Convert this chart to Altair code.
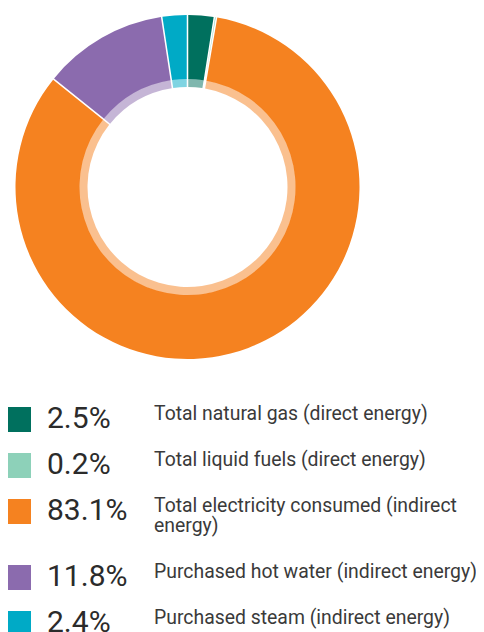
import altair as alt
import pandas as pd

categories = [
    "Total natural gas (direct energy)",
    "Total liquid fuels (direct energy)",
    "Total electricity consumed (indirect\nenergy)",
    "Purchased hot water (indirect energy)",
    "Purchased steam (indirect energy)",
]
shares = [2.5, 0.2, 83.1, 11.8, 2.4]
pct_labels = ["2.5%", "0.2%", "83.1%", "11.8%", "2.4%"]
colors = ["#00705e", "#8dd1b9", "#f58220", "#8b6bae", "#00aac6"]

df = pd.DataFrame({
    "idx": list(range(len(categories))),
    "cat": categories,
    "share": shares,
    "pct": pct_labels,
})

color = alt.Color("cat:N", scale=alt.Scale(domain=categories, range=colors), legend=None)
order = alt.Order("idx:Q")
theta = alt.Theta("share:Q", stack=True)

cx, cy = 179.5, 179

base = alt.Chart(df)

outer = base.mark_arc(radius=172, radius2=108, padAngle=0.0075).encode(
    theta=theta, color=color, order=order,
    x=alt.value(cx), y=alt.value(cy),
)
ring = base.mark_arc(radius=108.5, radius2=100, padAngle=0.0105, opacity=0.5).encode(
    theta=theta, color=color, order=order,
    x=alt.value(cx), y=alt.value(cy),
)

leg = base.transform_calculate(
    lines="length(split(datum.cat, '\\n'))"
).transform_calculate(
    h="46 + 20 * (datum.lines - 1)"
).transform_window(
    cum="sum(h)", sort=[alt.SortField("idx")], frame=[None, 0]
).transform_calculate(
    off="datum.cum - datum.h"
)

yenc = alt.Y("off:Q", scale=alt.Scale(domain=[0, 100], range=[411.5, 511.5]), axis=None)

squares = leg.mark_square(size=625, opacity=1, filled=True).encode(
    x=alt.value(10.5), y=yenc, color=color,
)
pcts = leg.mark_text(
    align="left", baseline="alphabetic", dy=8.5, font="Roboto",
    fontSize=30, color="#2b2b2b",
).encode(x=alt.value(39), y=yenc, text="pct:N")
labels = leg.mark_text(
    align="left", baseline="alphabetic", dy=0, font="Roboto",
    fontSize=19.4, color="#3a3a3a", lineBreak="\n", lineHeight=20,
).encode(x=alt.value(146), y=yenc, text="cat:N")

chart = alt.layer(outer, ring, squares, pcts, labels).properties(
    width=468, height=624, padding=0,
    autosize=alt.AutoSizeParams(type="none"),
).configure_view(stroke=None)

chart.save("out.html", embed_options={"renderer": "svg", "actions": False})
